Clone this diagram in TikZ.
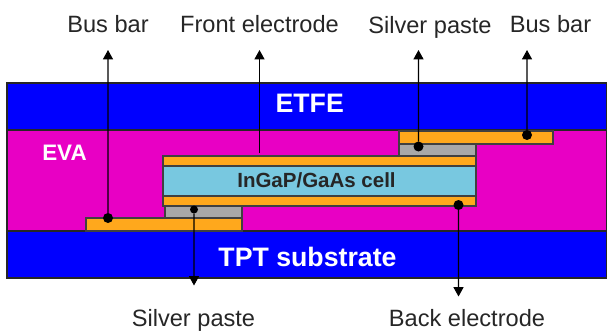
\documentclass[tikz,border=0pt]{standalone}
\usepackage{fontspec}
\setmainfont{Liberation Sans}
\usepackage{tikz}
\usetikzlibrary{positioning,arrows.meta}
\definecolor{layerblue}{HTML}{0000FF}
\definecolor{evapink}{HTML}{E800C4}
\definecolor{elecorange}{HTML}{FFA81C}
\definecolor{cellblue}{HTML}{78C8E0}
\definecolor{pastegray}{HTML}{A8A8A8}

\begin{document}
\begin{tikzpicture}[scale=0.75, transform shape, x=1pt, y=-1pt,
    layer/.style={rectangle, draw=black!85, line width=1.1pt, inner sep=0pt, outer sep=0pt, minimum width=#1},
    strip/.style={rectangle, draw=black!75, line width=0.9pt, inner sep=0pt, outer sep=0pt, minimum width=#1},
    dot/.style={circle, fill=black, inner sep=0pt, outer sep=0pt, minimum size=#1},
    caption/.style={anchor=base, inner sep=0pt, font=\fontsize{23.6}{26}\selectfont, text=black!85},
    layertext/.style={anchor=base, inner sep=0pt, text=white, font=\fontsize{#1}{28}\bfseries\selectfont},
    arrow/.style={-{Triangle[length=7pt,width=7.5pt]}, line width=0.8pt, black}]

    \useasboundingbox (0,0) rectangle (607,332);

    % layers
    \node[layer=600pt, fill=layerblue, minimum height=47pt] (etfe) at (307,106.5) {};
    \node[layer=600pt, fill=evapink, minimum height=101pt, below=0pt of etfe] (eva) {};
    \node[layer=600pt, fill=layerblue, minimum height=47pt, below=0pt of eva] (tpt) {};
    \node[layertext=26.7] (etfelabel) at (309.7,112) {ETFE};
    \node[layertext=22.4] (evalabel) at (64.5,160.5) {EVA};
    \node[layertext=26.7] (tptlabel) at (307.5,266) {TPT substrate};

    % cell
    \node[strip=313pt, fill=cellblue, minimum height=30pt] (cell) at (319.5,181) {};
    \node[strip=313pt, fill=elecorange, minimum height=10pt, above=0pt of cell] (frontelec) {};
    \node[strip=313pt, fill=elecorange, minimum height=10pt, below=0pt of cell] (backelec) {};
    \node[strip=77pt, fill=pastegray, minimum height=12pt, below right=0pt and 2pt of backelec.south west] (pasteleft) {};
    \node[strip=156pt, fill=elecorange, minimum height=13pt, below left=0pt and 0pt of pasteleft.south east] (busleft) {};
    \node[strip=77pt, fill=pastegray, minimum height=12pt, above left=0pt and 0pt of frontelec.north east] (pasteright) {};
    \node[strip=154pt, fill=elecorange, minimum height=13pt, above right=0pt and 0pt of pasteright.north west] (busright) {};
    \node[layertext=20.5, text=black!85] (celllabel) at (316.5,187) {InGaP/GaAs cell};

    % labels
    \node[caption] (lab1) at (108,32) {Bus bar};
    \node[caption] (lab2) at (259.5,32) {Front electrode};
    \node[caption] (lab3) at (430,33) {Silver paste};
    \node[caption] (lab4) at (550.5,32) {Bus bar};
    \node[caption] (lab5) at (193.5,326.5) {Silver paste};
    \node[caption] (lab6) at (467,326) {Back electrode};

    % dots and free ends
    \node[dot=10pt] (dotbusl) at (108,218) {};
    \node[dot=8pt] (dotpastel) at (194,209.5) {};
    \node[dot=10pt] (dotpaster) at (418.5,146.5) {};
    \node[dot=10pt] (dotbusr) at (527,135) {};
    \node[dot=10pt] (dotback) at (458.5,205) {};
    \coordinate (startfront) at (259.5,153);
    \coordinate (tip1) at (108,50);
    \coordinate (tip2) at (259.5,50);
    \coordinate (tip3) at (418.5,50);
    \coordinate (tip4) at (527,50);
    \coordinate (tip5) at (194,285.5);
    \coordinate (tip6) at (458.5,296.5);

    \draw[arrow] (dotbusl) -- (tip1);
    \draw[arrow] (startfront) -- (tip2);
    \draw[arrow] (dotpaster) -- (tip3);
    \draw[arrow] (dotbusr) -- (tip4);
    \draw[arrow] (dotpastel) -- (tip5);
    \draw[arrow] (dotback) -- (tip6);
\end{tikzpicture}
\end{document}
